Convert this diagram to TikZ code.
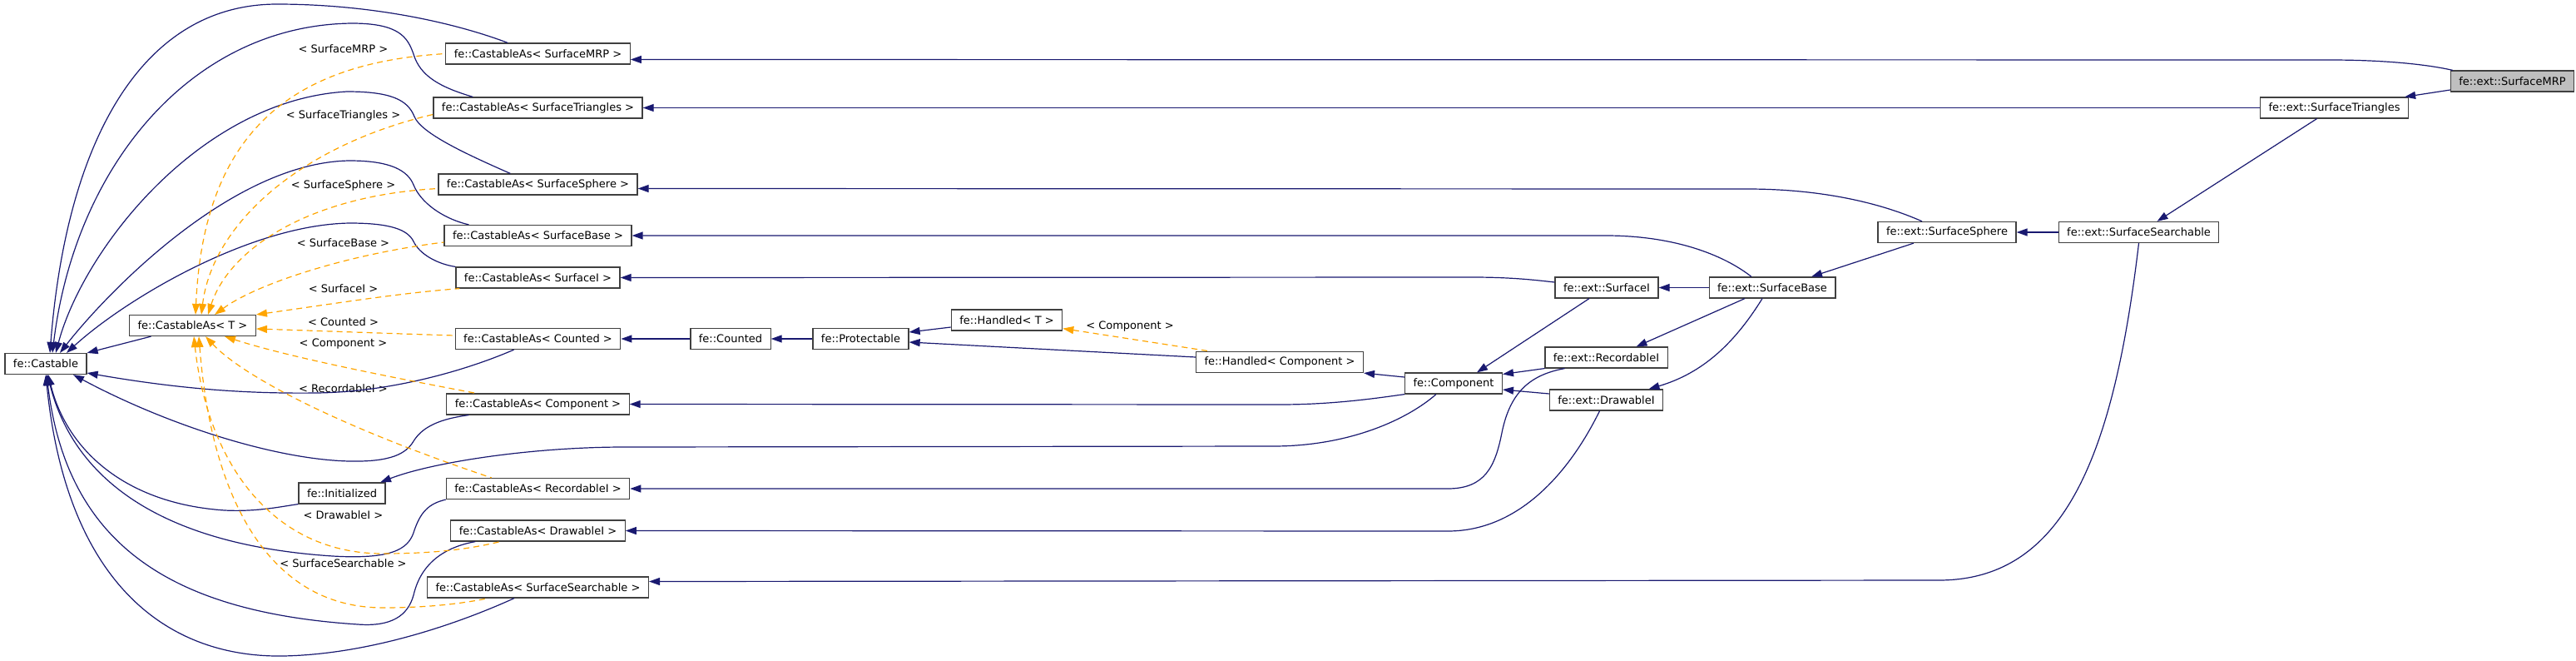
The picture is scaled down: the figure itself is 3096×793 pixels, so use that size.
\documentclass[tikz,border=0pt]{standalone}
\usepackage{fontspec}
\setmainfont{DejaVu Sans}
\usetikzlibrary{arrows.meta}

\definecolor{edgeblue}{HTML}{191970}
\definecolor{tmplorange}{HTML}{FFA500}
\definecolor{rootgray}{HTML}{BFBFBF}
\definecolor{boxline}{HTML}{404040}

\begin{document}
\begin{tikzpicture}[x=1pt, y=-1pt,
    cls/.style={draw=boxline, line width=1.2pt, fill=white, minimum height=25pt, inner xsep=10pt, inner ysep=0pt, font=\fontsize{13}{15}\selectfont},
    root/.style={cls, fill=rootgray},
    lbl/.style={inner sep=0pt, font=\fontsize{13}{15}\selectfont},
    inh/.style={draw=edgeblue, line width=1.2pt, {Triangle[length=13pt,width=9pt]}-},
    tmpl/.style={draw=tmplorange, line width=1.2pt, dash pattern=on 7pt off 5pt, {Triangle[length=13pt,width=9pt]}-}]
    \useasboundingbox (0,0) rectangle (3096,793);

    % left part
    \node[cls] (castable) at (55,437) {fe::Castable};
    \node[cls] (castT) at (231.5,391) {fe::CastableAs< T >};
    \node[cls] (initialized) at (411,592.5) {fe::Initialized};
    \foreach \nm/\tname/\y in {castMRP/SurfaceMRP/64.5, castTri/SurfaceTriangles/129.5, castSphere/SurfaceSphere/221.5,
        castBase/SurfaceBase/283, castSurfI/SurfaceI/333.5, castCounted/Counted/407, castComp/Component/485.5,
        castRec/RecordableI/587, castDraw/DrawableI/637.5, castSearch/SurfaceSearchable/705.5}
      \node[cls] (\nm) at (646.5,\y) {fe::CastableAs< \tname{} >};
    \foreach \nm/\tname/\y in {lblMRP/SurfaceMRP/59, lblTri/SurfaceTriangles/139, lblSphere/SurfaceSphere/223,
        lblBase/SurfaceBase/292, lblSurfI/SurfaceI/347, lblCounted/Counted/387, lblComp/Component/413,
        lblRec/RecordableI/467, lblDraw/DrawableI/619, lblSearch/SurfaceSearchable/677}
      \node[lbl] (\nm) at (412.5,\y) {< \tname{} >};

    % middle and right part
    \node[cls] (counted) at (878,407) {fe::Counted};
    \node[cls] (protectable) at (1034.5,407) {fe::Protectable};
    \node[cls] (handledT) at (1210,384.5) {fe::Handled< T >};
    \node[cls] (handledComp) at (1538,435) {fe::Handled< Component >};
    \node[lbl] (lblHandled) at (1358,392) {< Component >};
    \node[cls] (component) at (1747,460.5) {fe::Component};
    \node[cls] (extSurfI) at (1931,345.5) {fe::ext::SurfaceI};
    \node[cls] (extRec) at (1930.5,429.5) {fe::ext::RecordableI};
    \node[cls] (extDraw) at (1930.5,480.5) {fe::ext::DrawableI};
    \node[cls] (extBase) at (2130,345.5) {fe::ext::SurfaceBase};
    \node[cls] (extSphere) at (2340,279) {fe::ext::SurfaceSphere};
    \node[cls] (extSearch) at (2570.5,279) {fe::ext::SurfaceSearchable};
    \node[cls] (extTri) at (2805.5,129.5) {fe::ext::SurfaceTriangles};
    \node[root] (extMRP) at (3019.5,97.5) {fe::ext::SurfaceMRP};

    % everything derives from fe::Castable
    \draw[inh] (castable.north east) -- ([xshift=-50pt]castT.south);
    \draw[inh] ([xshift=5pt]castable.north) .. controls (80,170) and (170,5) .. (333,5)
      .. controls (440,5) and (540,25) .. ([xshift=75pt]castMRP.north west);
    \draw[inh] ([xshift=8pt]castable.north) .. controls (90,200) and (230,30) .. (423,28)
      .. controls (480,28) and (490,45) .. (497,65) .. controls (505,92) and (530,105) .. ([xshift=48pt]castTri.north west);
    \draw[inh] ([xshift=12pt]castable.north) .. controls (100,300) and (240,120) .. (417,110)
      .. controls (470,110) and (490,120) .. (498,140) .. controls (506,160) and (560,185) .. ([xshift=87pt]castSphere.north west);
    \draw[inh] ([xshift=17pt]castable.north) .. controls (130,350) and (280,195) .. (420,193)
      .. controls (470,193) and (490,205) .. (497,222) .. controls (505,242) and (530,262) .. ([xshift=30pt]castBase.north west);
    \draw[inh] ([xshift=25pt]castable.north) .. controls (150,360) and (300,270) .. (420,268)
      .. controls (470,268) and (490,276) .. (497,290) .. controls (504,305) and (525,317) .. (castSurfI.north west);
    \draw[inh] ([yshift=-11pt]castable.east) .. controls (220,468) and (300,473) .. (380,472)
      .. controls (470,471) and (560,445) .. ([xshift=71pt]castCounted.south west);
    \draw[inh] ([xshift=33pt]castable.south) .. controls (200,510) and (330,552) .. (420,554)
      .. controls (470,555) and (488,545) .. (497,530) .. controls (508,512) and (530,503) .. ([xshift=27pt]castComp.south west);
    \draw[inh] ([xshift=3pt]castable.south) .. controls (80,540) and (150,605) .. (270,613)
      .. controls (310,615) and (340,608) .. (initialized.south west);
    \draw[inh] ([xshift=2pt]castable.south) .. controls (90,580) and (200,655) .. (400,668)
      .. controls (470,672) and (490,660) .. (497,640) .. controls (505,615) and (515,605) .. (castRec.south west);
    \draw[inh] ([xshift=1pt]castable.south) .. controls (80,650) and (200,735) .. (430,750)
      .. controls (470,753) and (490,740) .. (497,715) .. controls (505,680) and (530,658) .. ([xshift=30pt]castDraw.south west);
    \draw[inh] (castable.south) .. controls (80,700) and (200,790) .. (340,788)
      .. controls (450,786) and (560,745) .. ([xshift=105pt]castSearch.south west);

    % template instances of fe::CastableAs< T >
    \draw[tmpl] ([xshift=3.5pt]castT.north) .. controls (245,150) and (360,75) .. (castMRP.west);
    \draw[tmpl] ([xshift=10.5pt]castT.north) .. controls (255,270) and (360,175) .. ([yshift=-8pt]castTri.west);
    \draw[tmpl] ([xshift=18.5pt]castT.north) .. controls (275,300) and (370,235) .. ([yshift=-5pt]castSphere.west);
    \draw[tmpl] ([xshift=26.5pt]castT.north) .. controls (310,340) and (420,305) .. ([yshift=-8pt]castBase.west);
    \draw[tmpl] (castT.north east) .. controls (400,365) and (480,352) .. ([xshift=5pt]castSurfI.south west);
    \draw[tmpl] ([yshift=-4pt]castT.east) .. controls (400,398) and (480,401) .. ([yshift=4pt]castCounted.west);
    \draw[tmpl] ([xshift=38.5pt]castT.south) .. controls (350,430) and (480,455) .. ([xshift=36pt]castComp.north west);
    \draw[tmpl] ([xshift=15.5pt]castT.south) .. controls (290,450) and (400,510) .. ([xshift=55pt]castRec.north west);
    \draw[tmpl] ([xshift=1.5pt]castT.south) .. controls (250,560) and (330,665) .. (460,665)
      .. controls (530,665) and (570,658) .. ([xshift=60pt]castDraw.south west);
    \draw[tmpl] ([xshift=7.5pt]castT.south) .. controls (255,610) and (330,730) .. (460,730)
      .. controls (520,730) and (560,724) .. ([xshift=74pt]castSearch.south west);

    % the long edges into the CastableAs column
    \draw[inh] ([yshift=-7pt]castMRP.east) -- (2800,72) .. controls (2870,72) and (2920,78) .. ([xshift=3pt]extMRP.north west);
    \draw[inh] (castTri.east) -- (extTri.west);
    \draw[inh] ([yshift=-5pt]castSphere.east) -- (2100,227) .. controls (2200,227) and (2270,248) .. ([xshift=-30pt]extSphere.north);
    \draw[inh] (castBase.east) -- (1930,283) .. controls (2010,283) and (2070,305) .. ([xshift=-25pt]extBase.north);
    \draw[inh] (castSurfI.east) -- (1770,333) .. controls (1820,333) and (1850,337) .. ([yshift=6.5pt]extSurfI.west);
    \draw[inh] (castCounted.east) -- (counted.west);
    \draw[inh] (castComp.east) -- (1538,486) .. controls (1600,486) and (1650,479) .. (component.south west);
    \draw[inh] (castRec.east) -- (1740,587) .. controls (1785,587) and (1797,560) .. (1805,520)
      .. controls (1815,470) and (1840,450) .. ([xshift=-50pt]extRec.south);
    \draw[inh] (castDraw.east) -- (1740,638) .. controls (1830,638) and (1890,560) .. ([xshift=-8pt]extDraw.south);
    \draw[inh] ([yshift=7pt]castSearch.east) -- (2330,697) .. controls (2480,697) and (2540,550) .. (extSearch.south);

    \draw[inh] (counted.east) -- (protectable.west);
    \draw[inh] ([yshift=8pt]protectable.east) -- ([yshift=-8.5pt]handledT.west);
    \draw[inh] ([yshift=-4pt]protectable.east) -- ([yshift=6pt]handledComp.west);
    \draw[tmpl] ([yshift=3pt]handledT.south east) -- ([xshift=-84pt]handledComp.north);
    \draw[inh] (handledComp.south east) -- ([yshift=7.5pt]component.west);
    \draw[inh] ([xshift=46pt]initialized.north) .. controls (520,555) and (640,537) .. (750,537)
      -- (1530,536) .. controls (1620,536) and (1690,505) .. ([xshift=-21pt]component.south);

    \draw[inh] ([xshift=28pt]component.north) -- ([xshift=-21pt]extSurfI.south);
    \draw[inh] ([yshift=11pt]component.east) -- (extRec.south west);
    \draw[inh] ([yshift=-7.5pt]component.east) -- ([yshift=7.5pt]extDraw.west);
    \draw[inh] (extSurfI.east) -- (extBase.west);
    \draw[inh] ([xshift=36pt]extRec.north) -- ([xshift=-33pt]extBase.south);
    \draw[inh] ([xshift=51pt]extDraw.north) .. controls (2040,450) and (2080,420) .. ([xshift=-12pt]extBase.south);
    \draw[inh] ([xshift=47pt]extBase.north) -- ([xshift=-40pt]extSphere.south);
    \draw[inh] (extSphere.east) -- (extSearch.west);
    \draw[inh] ([xshift=22pt]extSearch.north) -- ([xshift=-21pt]extTri.south);
    \draw[inh] ([xshift=-5pt]extTri.north east) -- ([yshift=-10.5pt]extMRP.west);
\end{tikzpicture}
\end{document}
